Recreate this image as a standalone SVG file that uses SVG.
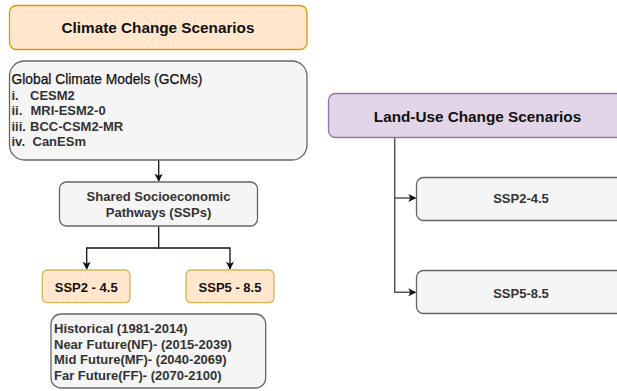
<svg xmlns="http://www.w3.org/2000/svg" width="617" height="391" viewBox="0 0 617 391">
  <style>
    .orange { fill: #ffe6cc; stroke: #d79b00; stroke-width: 1.3; }
    .gold { fill: #ffe6cc; stroke: #d6b656; stroke-width: 1.3; }
    .grey { fill: #f5f5f5; stroke: #666666; stroke-width: 1.3; }
    .purple { fill: #e1d5e7; stroke: #9673a6; stroke-width: 1.3; }
    text { font-family: "Liberation Sans", Arial, Helvetica, sans-serif; }
    .title { font-size: 15.3px; font-weight: bold; fill: #111111; text-anchor: middle; }
    .b13 { font-size: 13px; font-weight: bold; fill: #333333; }
    .mid { text-anchor: middle; }
    .dark { fill: #111111; }
    .head { font-size: 13.8px; font-weight: normal; fill: #111111; stroke: #111111; stroke-width: 0.25; }
    .link { fill: none; stroke: #111111; stroke-width: 1.3; }
    .link2 { fill: none; stroke: #555555; stroke-width: 1.5; }
  </style>
  <defs>
    <marker id="arrow" viewBox="0 0 10 10" refX="9" refY="5" markerWidth="8" markerHeight="8" markerUnits="userSpaceOnUse" orient="auto">
      <path d="M0,0 L10,5 L0,10 L2.5,5 Z" fill="#111111"/>
    </marker>
  </defs>

  <!-- connectors -->
  <g id="connectors">
    <path class="link" d="M158.7,160 V181" marker-end="url(#arrow)"/>
    <path class="link" d="M158.7,226 V248 H86.7 V269" marker-end="url(#arrow)"/>
    <path class="link" d="M158.7,248 H230 V269" marker-end="url(#arrow)"/>
    <path class="link2" d="M394.7,137 V292.3 H415.5" marker-end="url(#arrow)"/>
    <path class="link2" d="M394.7,198 H415.5" marker-end="url(#arrow)"/>
  </g>

  <!-- climate branch -->
  <g id="climate-scenarios">
    <rect class="orange" x="9.5" y="5.5" width="297.5" height="44" rx="7"/>
    <text class="title" x="158" y="33">Climate Change Scenarios</text>
  </g>

  <g id="gcms">
    <rect class="grey" x="9.5" y="61" width="297.5" height="99" rx="15"/>
    <text class="head" x="11.5" y="84">Global Climate Models (GCMs)</text>
    <text class="b13" y="99.5"><tspan x="11.5">i.</tspan><tspan x="30">CESM2</tspan></text>
    <text class="b13" y="115"><tspan x="11.5">ii.</tspan><tspan x="30.5">MRI-ESM2-0</tspan></text>
    <text class="b13" y="130.5"><tspan x="11.5">iii.</tspan><tspan x="30">BCC-CSM2-MR</tspan></text>
    <text class="b13" y="146"><tspan x="11.5">iv.</tspan><tspan x="32.5">CanESm</tspan></text>
  </g>

  <g id="ssps">
    <rect class="grey" x="59.5" y="182" width="198" height="44" rx="7"/>
    <text class="b13 mid" x="158.5" y="200.5">Shared Socioeconomic</text>
    <text class="b13 mid" x="158.5" y="217">Pathways (SSPs)</text>
  </g>

  <g id="ssp2-45">
    <rect class="gold" x="42.3" y="270" width="87.7" height="32.7" rx="5"/>
    <text class="b13 mid dark" x="86.2" y="292">SSP2 - 4.5</text>
  </g>

  <g id="ssp5-85">
    <rect class="gold" x="186" y="270" width="88" height="32.7" rx="5"/>
    <text class="b13 mid dark" x="230" y="292">SSP5 - 8.5</text>
  </g>

  <g id="periods">
    <rect class="grey" x="51" y="314" width="214.7" height="74" rx="10"/>
    <text class="b13" x="54" y="333">Historical (1981-2014)</text>
    <text class="b13" x="54" y="348.5">Near Future(NF)- (2015-2039)</text>
    <text class="b13" x="54" y="364">Mid Future(MF)- (2040-2069)</text>
    <text class="b13" x="54" y="379.5">Far Future(FF)- (2070-2100)</text>
  </g>

  <!-- land-use branch -->
  <g id="land-use-scenarios">
    <rect class="purple" x="328.5" y="93.5" width="298" height="44" rx="7"/>
    <text class="title" x="477.5" y="122">Land-Use Change Scenarios</text>
  </g>

  <g id="lu-ssp2-45">
    <rect class="grey" x="416.5" y="177.5" width="210" height="43" rx="7"/>
    <text class="b13 mid" x="521" y="203">SSP2-4.5</text>
  </g>

  <g id="lu-ssp5-85">
    <rect class="grey" x="416.5" y="270.5" width="210" height="43" rx="7"/>
    <text class="b13 mid" x="521" y="298">SSP5-8.5</text>
  </g>
</svg>
